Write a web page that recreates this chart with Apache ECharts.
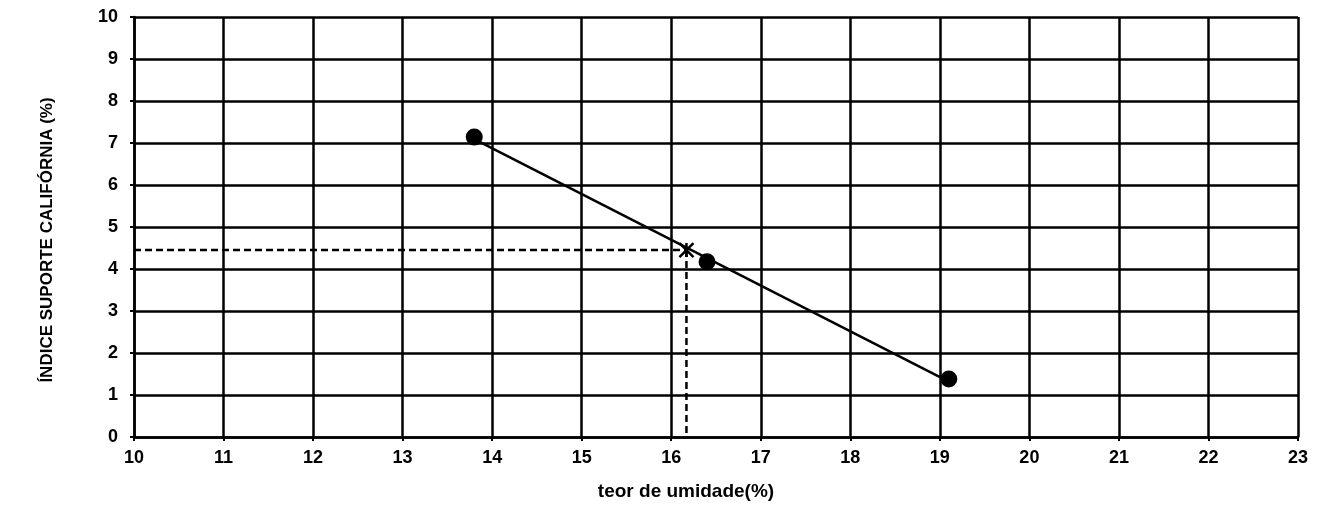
<!DOCTYPE html>
<html>
<head>
<meta charset="utf-8">
<script src="https://cdn.jsdelivr.net/npm/echarts@6/dist/echarts.min.js"></script>
<style>html,body{margin:0;padding:0;background:#fff}#c{width:1322px;height:506px}</style>
</head>
<body>
<div id="c"></div>
<script>
const moisture = [13.8, 16.4, 19.1];
const cbr = [7.14, 4.17, 1.38];
const trendX = [13.8, 19.1];
const trendY = [7.09, 1.32];
const designX = 16.17;
const designY = 4.45;
const xTitle = 'teor de umidade(%)';
const yTitle = 'ÍNDICE SUPORTE CALIFÓRNIA (%)';

const chart = echarts.init(document.getElementById('c'));
const font = 'Liberation Sans, Arial, sans-serif';
chart.setOption({
  animation: false,
  backgroundColor: '#fff',
  grid: {left: 134, right: 24, top: 17, bottom: 69},
  xAxis: {
    type: 'value', min: 10, max: 23, interval: 1,
    axisLine: {onZero: false, lineStyle: {color: '#000', width: 2.5}},
    axisTick: {show: true, length: 4, lineStyle: {color: '#000', width: 2}},
    axisLabel: {color: '#000', fontSize: 18, fontWeight: 'bold', fontFamily: font, margin: 12},
    splitLine: {show: true, lineStyle: {color: '#000', width: 2.5}}
  },
  yAxis: {
    type: 'value', min: 0, max: 10, interval: 1,
    axisLine: {show: true, onZero: false, lineStyle: {color: '#000', width: 2.5}},
    axisTick: {show: true, length: 4, lineStyle: {color: '#000', width: 2}},
    axisLabel: {color: '#000', fontSize: 18, fontWeight: 'bold', fontFamily: font, margin: 16},
    splitLine: {show: true, lineStyle: {color: '#000', width: 2.5}}
  },
  graphic: [
    {type: 'text', x: 686, y: 492, style: {text: xTitle, font: 'bold 19px ' + font, fill: '#000', align: 'center', verticalAlign: 'middle'}},
    {type: 'text', x: 47, y: 240, rotation: Math.PI / 2, style: {text: yTitle, font: 'bold 17px ' + font, fill: '#000', align: 'center', verticalAlign: 'middle'}}
  ],
  series: [
    {
      type: 'line', data: [[10, designY], [designX, designY]], symbol: 'none',
      lineStyle: {color: '#000', width: 2.5, type: [7, 4]}, z: 3
    },
    {
      type: 'line', data: [[designX, designY], [designX, 0]], symbol: 'none',
      lineStyle: {color: '#000', width: 2.5, type: [7, 4]}, z: 3
    },
    {
      type: 'line', data: trendX.map((x, i) => [x, trendY[i]]), symbol: 'none',
      lineStyle: {color: '#000', width: 2.5}, z: 4
    },
    {
      type: 'scatter', data: moisture.map((x, i) => [x, cbr[i]]), symbol: 'circle', symbolSize: 17,
      itemStyle: {color: '#000', opacity: 1}, z: 5
    },
    {
      type: 'scatter', data: [[designX, designY]],
      symbol: 'path://M0,0L10,10M10,0L0,10M5,0L5,10', symbolSize: 14,
      itemStyle: {color: 'none', borderColor: '#000', borderWidth: 2.5, opacity: 1}, z: 6
    }
  ]
});
</script>
</body>
</html>
